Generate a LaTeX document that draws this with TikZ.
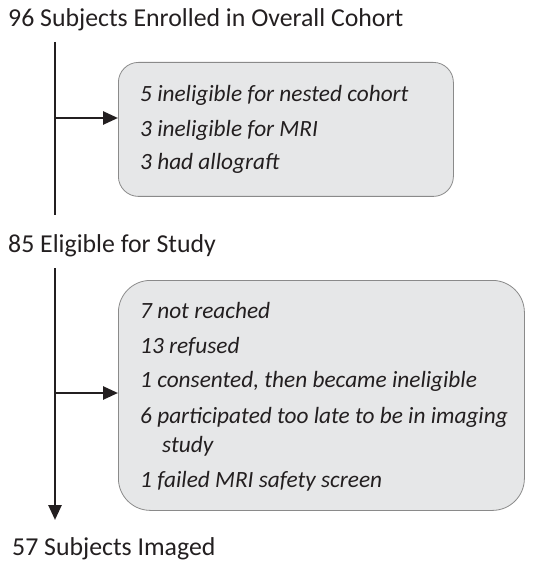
\documentclass[tikz,border=0pt]{standalone}
\usepackage{fontspec}
\setmainfont{Carlito}
\usetikzlibrary{arrows.meta}
\definecolor{boxfill}{HTML}{E6E7E8}
\definecolor{boxline}{HTML}{8A8A8A}
\definecolor{ink}{HTML}{231F20}
\tikzset{
  head/.style={anchor=base west, inner sep=0pt, font=\fontsize{25.8}{30}\selectfont, text=ink},
  item/.style={anchor=base west, inner sep=0pt, font=\fontsize{23.3}{28}\selectfont\itshape, text=ink},
  flow/.style={line width=2.6pt, draw=ink},
  tip/.style={-{Triangle[length=15pt,width=13pt]}},
  excl/.style={draw=boxline, fill=boxfill, line width=0.8pt, anchor=north west, inner sep=0pt},
}
\begin{document}
\begin{tikzpicture}[x=1pt,y=-1pt]
\useasboundingbox (0,0) rectangle (539,561);
\node[head] (h1) at (8,27) {96 Subjects Enrolled in Overall Cohort};
\node[head] (h2) at (8,252) {85 Eligible for Study};
\node[head] (h3) at (12,555) {57 Subjects Imaged};

\node[excl, rounded corners=20pt, minimum width=335pt, minimum height=134pt] (b1) at (118,62) {};
\node[excl, rounded corners=32pt, minimum width=406pt, minimum height=230pt] (b2) at (118,280) {};

\node[item] (t11) at (140,102) {5 ineligible for nested cohort};
\node[item] (t12) at (140,137) {3 ineligible for MRI};
\node[item] (t13) at (140,170) {3 had allograft};

\node[item] (t21) at (140,318) {7 not reached};
\node[item] (t22) at (140,353) {13 refused};
\node[item] (t23) at (140,387) {1 consented, then became ineligible};
\node[item] (t24) at (140,423) {6 participated too late to be in imaging};
\node[item] (t25) at (162,452) {study};
\node[item] (t26) at (140,487) {1 failed MRI safety screen};

\coordinate (v1a) at (55,42);
\coordinate (v1b) at (55,215);
\coordinate (j1) at (55,118);
\coordinate (v2a) at (55,268);
\coordinate (v2b) at (55,520);
\coordinate (j2) at (55,393);

\draw[flow] (v1a) -- (v1b);
\draw[flow,tip] (j1) -- (j1 -| b1.west);
\draw[flow,tip] (v2a) -- (v2b);
\draw[flow,tip] (j2) -- (j2 -| b2.west);
\end{tikzpicture}
\end{document}
